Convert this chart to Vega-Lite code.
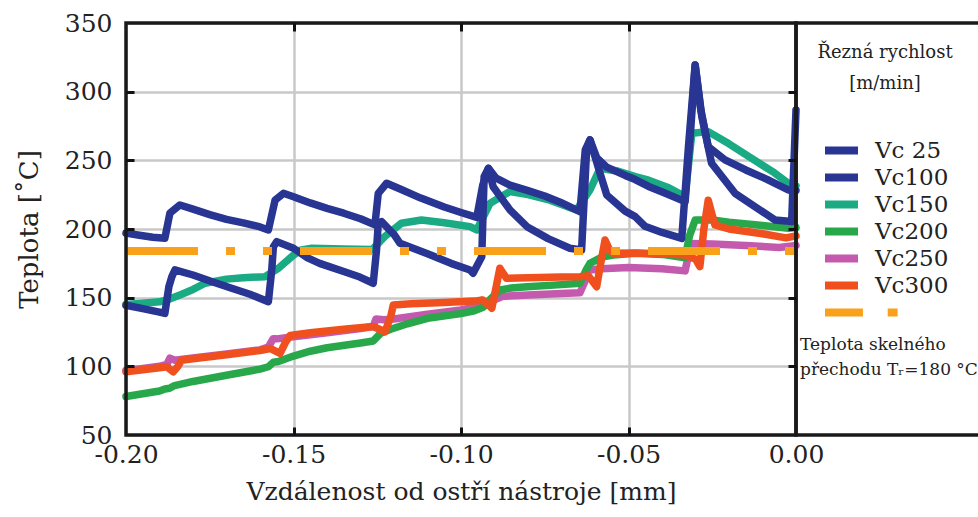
{
  "$schema": "https://vega.github.io/schema/vega-lite/v6.json",
  "width": 670,
  "height": 412,
  "autosize": {"type": "none"},
  "padding": {"left": 126, "top": 23, "right": 182, "bottom": 82},
  "background": "white",
  "config": {
    "view": {"stroke": null},
    "axis": {
      "labelFont": "DejaVu Serif", "labelFontSize": 25, "labelColor": "#222",
      "titleFont": "DejaVu Serif", "titleFontSize": 25, "titleFontWeight": "normal", "titleColor": "#222",
      "gridColor": "#c8c8c8", "gridWidth": 2.5, "domain": false, "ticks": false, "labelFlush": false
    },
    "legend": {
      "orient": "none", "legendX": 691, "legendY": 21, "padding": 0,
      "titleFont": "DejaVu Serif", "titleFontSize": 18, "titleFontWeight": "normal", "titleColor": "#222",
      "titleAnchor": "middle", "titleAlign": "center", "titleLineHeight": 31, "titlePadding": 46, "titleLimit": 300,
      "labelFont": "DejaVu Serif", "labelFontSize": 23, "labelColor": "#222", "labelOffset": 13,
      "symbolType": "stroke", "symbolSize": 1089, "symbolStrokeWidth": 8, "clipHeight": 23, "rowPadding": 3
    }
  },
  "title": {
    "text": ["Teplota skelného", "přechodu Tᵣ=180 °C"],
    "anchor": "start", "frame": "group", "orient": "top", "offset": 0,
    "dx": 674, "dy": 368, "align": "left", "baseline": "top",
    "font": "DejaVu Serif", "fontSize": 17, "fontWeight": "normal", "color": "#222", "lineHeight": 25
  },
  "resolve": {"scale": {"x": "independent", "y": "independent"}, "axis": {"x": "independent", "y": "independent"}},
  "layer": [
    {
      "data": {"values": [
        {"series":"Vc250","x":-0.2,"y":97},{"series":"Vc250","x":-0.195,"y":98.5},{"series":"Vc250","x":-0.19,"y":100},{"series":"Vc250","x":-0.1878,"y":101.5},{"series":"Vc250","x":-0.1869,"y":106},{"series":"Vc250","x":-0.1855,"y":104.5},{"series":"Vc250","x":-0.18,"y":106},{"series":"Vc250","x":-0.17,"y":109},{"series":"Vc250","x":-0.16,"y":112},{"series":"Vc250","x":-0.1575,"y":114},{"series":"Vc250","x":-0.1561,"y":120},{"series":"Vc250","x":-0.155,"y":120},{"series":"Vc250","x":-0.15,"y":121.5},{"series":"Vc250","x":-0.14,"y":124.5},{"series":"Vc250","x":-0.13,"y":127.5},{"series":"Vc250","x":-0.1262,"y":129},{"series":"Vc250","x":-0.1254,"y":134.5},{"series":"Vc250","x":-0.123,"y":134},{"series":"Vc250","x":-0.12,"y":134.5},{"series":"Vc250","x":-0.11,"y":138},{"series":"Vc250","x":-0.1,"y":141},{"series":"Vc250","x":-0.096,"y":143},{"series":"Vc250","x":-0.0938,"y":148},{"series":"Vc250","x":-0.0925,"y":146.5},{"series":"Vc250","x":-0.09,"y":148.5},{"series":"Vc250","x":-0.0875,"y":151},{"series":"Vc250","x":-0.08,"y":152},{"series":"Vc250","x":-0.07,"y":153},{"series":"Vc250","x":-0.0645,"y":153.5},{"series":"Vc250","x":-0.063,"y":162},{"series":"Vc250","x":-0.0621,"y":170},{"series":"Vc250","x":-0.058,"y":171},{"series":"Vc250","x":-0.05,"y":172},{"series":"Vc250","x":-0.04,"y":171},{"series":"Vc250","x":-0.0331,"y":169.5},{"series":"Vc250","x":-0.0322,"y":180},{"series":"Vc250","x":-0.0313,"y":189.5},{"series":"Vc250","x":-0.025,"y":189},{"series":"Vc250","x":-0.015,"y":188},{"series":"Vc250","x":-0.005,"y":186.5},{"series":"Vc250","x":0,"y":188},
        {"series":"Vc200","x":-0.2,"y":78},{"series":"Vc200","x":-0.195,"y":80},{"series":"Vc200","x":-0.19,"y":82},{"series":"Vc200","x":-0.1884,"y":83.5},{"series":"Vc200","x":-0.187,"y":84},{"series":"Vc200","x":-0.1855,"y":86},{"series":"Vc200","x":-0.18,"y":89},{"series":"Vc200","x":-0.17,"y":93.5},{"series":"Vc200","x":-0.16,"y":98},{"series":"Vc200","x":-0.1575,"y":99.7},{"series":"Vc200","x":-0.156,"y":103},{"series":"Vc200","x":-0.1545,"y":103.5},{"series":"Vc200","x":-0.15,"y":107.5},{"series":"Vc200","x":-0.145,"y":111},{"series":"Vc200","x":-0.14,"y":113.5},{"series":"Vc200","x":-0.13,"y":117},{"series":"Vc200","x":-0.1262,"y":118.5},{"series":"Vc200","x":-0.124,"y":124},{"series":"Vc200","x":-0.121,"y":127},{"series":"Vc200","x":-0.116,"y":131},{"series":"Vc200","x":-0.11,"y":135},{"series":"Vc200","x":-0.1,"y":138.5},{"series":"Vc200","x":-0.096,"y":140.5},{"series":"Vc200","x":-0.0934,"y":143},{"series":"Vc200","x":-0.092,"y":147},{"series":"Vc200","x":-0.0884,"y":155.6},{"series":"Vc200","x":-0.085,"y":157},{"series":"Vc200","x":-0.0803,"y":158},{"series":"Vc200","x":-0.07,"y":159.5},{"series":"Vc200","x":-0.0645,"y":160.5},{"series":"Vc200","x":-0.0627,"y":170},{"series":"Vc200","x":-0.0615,"y":175},{"series":"Vc200","x":-0.058,"y":179.5},{"series":"Vc200","x":-0.0545,"y":181},{"series":"Vc200","x":-0.048,"y":182.3},{"series":"Vc200","x":-0.04,"y":181.5},{"series":"Vc200","x":-0.0331,"y":179},{"series":"Vc200","x":-0.0318,"y":195},{"series":"Vc200","x":-0.0301,"y":206.6},{"series":"Vc200","x":-0.025,"y":206.6},{"series":"Vc200","x":-0.02,"y":205},{"series":"Vc200","x":-0.01,"y":202.5},{"series":"Vc200","x":-0.0022,"y":200.5},{"series":"Vc200","x":0,"y":201},
        {"series":"Vc150","x":-0.2,"y":145},{"series":"Vc150","x":-0.195,"y":146},{"series":"Vc150","x":-0.19,"y":147},{"series":"Vc150","x":-0.187,"y":149},{"series":"Vc150","x":-0.1839,"y":152},{"series":"Vc150","x":-0.18,"y":156},{"series":"Vc150","x":-0.1764,"y":160.5},{"series":"Vc150","x":-0.17,"y":163.5},{"series":"Vc150","x":-0.165,"y":164.5},{"series":"Vc150","x":-0.1585,"y":165.3},{"series":"Vc150","x":-0.1545,"y":171.4},{"series":"Vc150","x":-0.15,"y":181},{"series":"Vc150","x":-0.148,"y":184.5},{"series":"Vc150","x":-0.1445,"y":186},{"series":"Vc150","x":-0.135,"y":185.5},{"series":"Vc150","x":-0.1265,"y":185},{"series":"Vc150","x":-0.1228,"y":194.4},{"series":"Vc150","x":-0.1178,"y":204.2},{"series":"Vc150","x":-0.1118,"y":206.6},{"series":"Vc150","x":-0.105,"y":204.5},{"series":"Vc150","x":-0.0973,"y":201.7},{"series":"Vc150","x":-0.0953,"y":199.3},{"series":"Vc150","x":-0.0913,"y":218.8},{"series":"Vc150","x":-0.0854,"y":227.3},{"series":"Vc150","x":-0.08,"y":225},{"series":"Vc150","x":-0.0735,"y":221},{"series":"Vc150","x":-0.0655,"y":213.9},{"series":"Vc150","x":-0.0615,"y":228.4},{"series":"Vc150","x":-0.0585,"y":244.2},{"series":"Vc150","x":-0.053,"y":242},{"series":"Vc150","x":-0.048,"y":238.1},{"series":"Vc150","x":-0.044,"y":235.5},{"series":"Vc150","x":-0.038,"y":230},{"series":"Vc150","x":-0.0331,"y":223.6},{"series":"Vc150","x":-0.0311,"y":269.7},{"series":"Vc150","x":-0.0262,"y":270.9},{"series":"Vc150","x":-0.02,"y":262},{"series":"Vc150","x":-0.013,"y":251},{"series":"Vc150","x":-0.0065,"y":241},{"series":"Vc150","x":-0.0023,"y":233.3},{"series":"Vc150","x":0,"y":231.5},
        {"series":"Vc300","x":-0.2,"y":96},{"series":"Vc300","x":-0.195,"y":97.5},{"series":"Vc300","x":-0.19,"y":99},{"series":"Vc300","x":-0.1878,"y":99.7},{"series":"Vc300","x":-0.1859,"y":96},{"series":"Vc300","x":-0.1845,"y":100},{"series":"Vc300","x":-0.1834,"y":104.5},{"series":"Vc300","x":-0.18,"y":105.5},{"series":"Vc300","x":-0.17,"y":108.5},{"series":"Vc300","x":-0.16,"y":111.5},{"series":"Vc300","x":-0.157,"y":113},{"series":"Vc300","x":-0.154,"y":109.5},{"series":"Vc300","x":-0.1525,"y":117},{"series":"Vc300","x":-0.151,"y":122.5},{"series":"Vc300","x":-0.145,"y":124.5},{"series":"Vc300","x":-0.135,"y":127},{"series":"Vc300","x":-0.1262,"y":129},{"series":"Vc300","x":-0.1227,"y":125.2},{"series":"Vc300","x":-0.121,"y":136},{"series":"Vc300","x":-0.1202,"y":144.7},{"series":"Vc300","x":-0.115,"y":145.5},{"series":"Vc300","x":-0.105,"y":146.5},{"series":"Vc300","x":-0.096,"y":147.5},{"series":"Vc300","x":-0.0935,"y":148.3},{"series":"Vc300","x":-0.0908,"y":142.3},{"series":"Vc300","x":-0.0895,"y":158},{"series":"Vc300","x":-0.0884,"y":171.4},{"series":"Vc300","x":-0.0864,"y":164.1},{"series":"Vc300","x":-0.08,"y":164.5},{"series":"Vc300","x":-0.07,"y":165},{"series":"Vc300","x":-0.0645,"y":165.3},{"series":"Vc300","x":-0.062,"y":166},{"series":"Vc300","x":-0.0595,"y":158},{"series":"Vc300","x":-0.0583,"y":175},{"series":"Vc300","x":-0.057,"y":192},{"series":"Vc300","x":-0.0555,"y":184},{"series":"Vc300","x":-0.0545,"y":182.3},{"series":"Vc300","x":-0.048,"y":182.5},{"series":"Vc300","x":-0.04,"y":182},{"series":"Vc300","x":-0.0331,"y":181},{"series":"Vc300","x":-0.03,"y":178},{"series":"Vc300","x":-0.0287,"y":172.6},{"series":"Vc300","x":-0.0275,"y":200},{"series":"Vc300","x":-0.0262,"y":221},{"series":"Vc300","x":-0.025,"y":210},{"series":"Vc300","x":-0.0242,"y":203},{"series":"Vc300","x":-0.02,"y":200},{"series":"Vc300","x":-0.01,"y":196.5},{"series":"Vc300","x":-0.003,"y":193.5},{"series":"Vc300","x":0,"y":195},
        {"series":"Vc100","x":-0.2,"y":144.5},{"series":"Vc100","x":-0.195,"y":142},{"series":"Vc100","x":-0.19,"y":139.5},{"series":"Vc100","x":-0.1884,"y":138.6},{"series":"Vc100","x":-0.1872,"y":158},{"series":"Vc100","x":-0.1863,"y":165.3},{"series":"Vc100","x":-0.1854,"y":170.2},{"series":"Vc100","x":-0.18,"y":166.5},{"series":"Vc100","x":-0.1736,"y":161},{"series":"Vc100","x":-0.1687,"y":157},{"series":"Vc100","x":-0.163,"y":152.5},{"series":"Vc100","x":-0.1575,"y":147.1},{"series":"Vc100","x":-0.1565,"y":170},{"series":"Vc100","x":-0.156,"y":187.1},{"series":"Vc100","x":-0.155,"y":190.8},{"series":"Vc100","x":-0.15,"y":186},{"series":"Vc100","x":-0.1458,"y":179},{"series":"Vc100","x":-0.1422,"y":175},{"series":"Vc100","x":-0.135,"y":169},{"series":"Vc100","x":-0.1302,"y":165},{"series":"Vc100","x":-0.1262,"y":160.5},{"series":"Vc100","x":-0.1252,"y":185},{"series":"Vc100","x":-0.1247,"y":204.2},{"series":"Vc100","x":-0.1237,"y":205.4},{"series":"Vc100","x":-0.12,"y":196},{"series":"Vc100","x":-0.1182,"y":189.6},{"series":"Vc100","x":-0.11,"y":182},{"series":"Vc100","x":-0.103,"y":175},{"series":"Vc100","x":-0.0973,"y":170.2},{"series":"Vc100","x":-0.0964,"y":167.8},{"series":"Vc100","x":-0.0938,"y":179.8},{"series":"Vc100","x":-0.0931,"y":238},{"series":"Vc100","x":-0.0918,"y":244.2},{"series":"Vc100","x":-0.0904,"y":230.8},{"series":"Vc100","x":-0.0854,"y":213.9},{"series":"Vc100","x":-0.0803,"y":201.7},{"series":"Vc100","x":-0.074,"y":193},{"series":"Vc100","x":-0.0675,"y":186},{"series":"Vc100","x":-0.064,"y":184.7},{"series":"Vc100","x":-0.0625,"y":257.6},{"series":"Vc100","x":-0.0615,"y":264.9},{"series":"Vc100","x":-0.0585,"y":240.6},{"series":"Vc100","x":-0.0565,"y":224.8},{"series":"Vc100","x":-0.051,"y":213},{"series":"Vc100","x":-0.048,"y":209},{"series":"Vc100","x":-0.0451,"y":202},{"series":"Vc100","x":-0.04,"y":197.5},{"series":"Vc100","x":-0.0341,"y":193.2},{"series":"Vc100","x":-0.0321,"y":260},{"series":"Vc100","x":-0.0301,"y":319.5},{"series":"Vc100","x":-0.0281,"y":281.8},{"series":"Vc100","x":-0.0252,"y":247.9},{"series":"Vc100","x":-0.0182,"y":226},{"series":"Vc100","x":-0.0063,"y":206.6},{"series":"Vc100","x":-0.0013,"y":205.4},{"series":"Vc100","x":0,"y":286.7},
        {"series":"Vc 25","x":-0.2,"y":197},{"series":"Vc 25","x":-0.196,"y":195.5},{"series":"Vc 25","x":-0.192,"y":194},{"series":"Vc 25","x":-0.1884,"y":193.3},{"series":"Vc 25","x":-0.1869,"y":211.5},{"series":"Vc 25","x":-0.1839,"y":217.5},{"series":"Vc 25","x":-0.18,"y":214.5},{"series":"Vc 25","x":-0.175,"y":210.5},{"series":"Vc 25","x":-0.17,"y":207},{"series":"Vc 25","x":-0.165,"y":204.5},{"series":"Vc 25","x":-0.16,"y":201.5},{"series":"Vc 25","x":-0.1575,"y":199.3},{"series":"Vc 25","x":-0.1555,"y":221},{"series":"Vc 25","x":-0.153,"y":226},{"series":"Vc 25","x":-0.15,"y":223.5},{"series":"Vc 25","x":-0.145,"y":219},{"series":"Vc 25","x":-0.14,"y":215},{"series":"Vc 25","x":-0.135,"y":211.5},{"series":"Vc 25","x":-0.13,"y":207.5},{"series":"Vc 25","x":-0.1257,"y":203},{"series":"Vc 25","x":-0.1247,"y":226},{"series":"Vc 25","x":-0.1222,"y":233.3},{"series":"Vc 25","x":-0.118,"y":229},{"series":"Vc 25","x":-0.112,"y":222.5},{"series":"Vc 25","x":-0.105,"y":216},{"series":"Vc 25","x":-0.1,"y":212},{"series":"Vc 25","x":-0.0953,"y":208.5},{"series":"Vc 25","x":-0.0935,"y":232},{"series":"Vc 25","x":-0.0918,"y":244.2},{"series":"Vc 25","x":-0.0895,"y":237},{"series":"Vc 25","x":-0.0854,"y":232},{"series":"Vc 25","x":-0.08,"y":228},{"series":"Vc 25","x":-0.075,"y":224},{"series":"Vc 25","x":-0.0704,"y":219.5},{"series":"Vc 25","x":-0.0645,"y":212.6},{"series":"Vc 25","x":-0.0629,"y":257.6},{"series":"Vc 25","x":-0.0615,"y":264.9},{"series":"Vc 25","x":-0.0595,"y":252},{"series":"Vc 25","x":-0.0565,"y":245},{"series":"Vc 25","x":-0.051,"y":239},{"series":"Vc 25","x":-0.048,"y":236},{"series":"Vc 25","x":-0.044,"y":231},{"series":"Vc 25","x":-0.039,"y":226},{"series":"Vc 25","x":-0.0331,"y":219.9},{"series":"Vc 25","x":-0.0315,"y":270},{"series":"Vc 25","x":-0.0301,"y":319.5},{"series":"Vc 25","x":-0.0285,"y":288},{"series":"Vc 25","x":-0.0262,"y":260},{"series":"Vc 25","x":-0.0212,"y":250.3},{"series":"Vc 25","x":-0.015,"y":243},{"series":"Vc 25","x":-0.0085,"y":236},{"series":"Vc 25","x":-0.0023,"y":228.4},{"series":"Vc 25","x":0,"y":228}
      ]},
      "mark": {"type": "line", "strokeWidth": 7.5, "strokeJoin": "round", "strokeCap": "round"},
      "encoding": {
        "x": {"field": "x", "type": "quantitative", "sort": null,
          "scale": {"domain": [-0.2, 0], "nice": false, "zero": false},
          "axis": {"orient": "bottom", "values": [-0.2, -0.15, -0.1, -0.05, 0], "grid": true, "zindex": 0,
            "labelExpr": "datum.value < 0 ? '-' + format(-datum.value, '.2f') : format(datum.value, '.2f')",
            "labelPadding": 7, "title": "Vzdálenost od ostří nástroje [mm]", "titlePadding": 12}},
        "y": {"field": "y", "type": "quantitative",
          "scale": {"domain": [50, 350], "nice": false, "zero": false},
          "axis": {"orient": "left", "values": [50, 100, 150, 200, 250, 300, 350], "grid": true, "zindex": 0,
            "labelPadding": 14, "title": "Teplota [˚C]", "titleFontSize": 26, "titlePadding": 22}},
        "color": {"field": "series", "type": "nominal",
          "scale": {"domain": ["Vc 25", "Vc100", "Vc150", "Vc200", "Vc250", "Vc300", "Tg"],
                    "range": ["#283593", "#283593", "#1aab84", "#28a84a", "#c45aad", "#f0501e", "#f9a11b"]},
          "legend": {"title": ["Řezná rychlost", "[m/min]"],
            "labelExpr": "datum.label === 'Tg' ? '' : replace(datum.label, ' ', ' ')",
            "encode": {"symbols": {"update": {
              "shape": {"signal": "datum.value === 'Tg' ? 'M-1,0H1.3M2.8,0H3.4' : 'stroke'"},
              "strokeCap": {"value": "butt"}}}}}}
      }
    },
    {
      "data": {"values": [{"series": "Tg", "y": 184}]},
      "mark": {"type": "rule", "strokeWidth": 8, "strokeDash": [9, 28, 9, 28, 72, 28], "strokeDashOffset": 172, "strokeCap": "butt"},
      "encoding": {
        "y": {"field": "y", "type": "quantitative", "axis": null,
          "scale": {"domain": [50, 350], "nice": false, "zero": false}},
        "color": {"field": "series", "type": "nominal",
          "legend": {"title": ["Řezná rychlost", "[m/min]"]}}
      }
    },
    {
      "data": {"values": [{"x0": -0.2, "x1": 0, "y0": 50, "y1": 350}]},
      "mark": {"type": "rect", "fill": "transparent", "stroke": "#1a1a1a", "strokeWidth": 3.5},
      "encoding": {
        "x": {"field": "x0", "type": "quantitative",
          "scale": {"domain": [-0.2, 0], "nice": false, "zero": false},
          "axis": {"orient": "top", "values": [-0.15, -0.1, -0.05], "labels": false, "grid": true, "title": null,
            "gridColor": "#111", "gridWidth": 3, "gridDash": [8, 396, 8, 2000], "zindex": 1}},
        "x2": {"field": "x1"},
        "y": {"field": "y0", "type": "quantitative",
          "scale": {"domain": [50, 350], "nice": false, "zero": false},
          "axis": {"orient": "right", "values": [100, 150, 200, 250, 300], "labels": false, "grid": true, "title": null,
            "gridColor": "#111", "gridWidth": 3, "gridDash": [8, 654, 8, 2000], "zindex": 1}},
        "y2": {"field": "y1"}
      }
    },
    {
      "data": {"values": [{}]},
      "mark": {"type": "rect", "fill": "transparent", "stroke": "#1a1a1a", "strokeWidth": 3.5},
      "encoding": {
        "x": {"datum": 0, "type": "quantitative", "axis": null,
          "scale": {"domain": [-0.2, 0], "nice": false, "zero": false}},
        "x2": {"datum": 0.06},
        "y": {"datum": 50, "type": "quantitative", "axis": null,
          "scale": {"domain": [50, 350], "nice": false, "zero": false}},
        "y2": {"datum": 350}
      }
    }
  ]
}
